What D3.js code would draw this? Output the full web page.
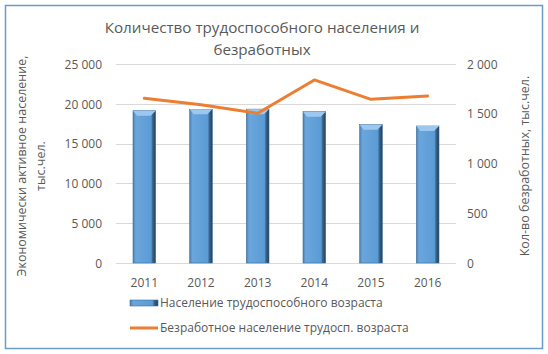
<!DOCTYPE html>
<html>
<head>
<meta charset="utf-8">
<script src="https://cdn.jsdelivr.net/npm/d3@7"></script>
<style>
  body { margin: 0; background: #fff; }
  svg text { font-family: "Open Sans", "Noto Sans", sans-serif; fill: #595959; }
</style>
</head>
<body>
<svg id="chart" width="548" height="354"></svg>
<script>
// data
const years = ["2011", "2012", "2013", "2014", "2015", "2016"]
const population = [19130, 19300, 19330, 19010, 17380, 17210]
const unemployed = [1655, 1590, 1505, 1840, 1645, 1678]
const leftTicks = [0, 5000, 10000, 15000, 20000, 25000]
const rightTicks = [0, 500, 1000, 1500, 2000]

const svg = d3.select("#chart")
const fmt = d => d3.format(",")(d).replace(/,/g, " ")

// frame
svg.append("rect")
    .attr("x", 5.5).attr("y", 5.5)
    .attr("width", 537).attr("height", 343)
    .attr("fill", "#fff")
    .attr("stroke", "#6a9bc9")
    .attr("stroke-width", 1.5)

let defs = svg.append("defs")
let grad = defs.append("linearGradient").attr("id", "barGrad")
    .attr("x1", 0).attr("x2", 1).attr("y1", 0).attr("y2", 0)
grad.append("stop").attr("offset", "0%").attr("stop-color", "#4a7fb0")
grad.append("stop").attr("offset", "12%").attr("stop-color", "#6aa6dc")
grad.append("stop").attr("offset", "80%").attr("stop-color", "#5b9bd5")
grad.append("stop").attr("offset", "86%").attr("stop-color", "#3d6990")
grad.append("stop").attr("offset", "100%").attr("stop-color", "#223c55")

const plotL = 116, plotR = 456, plotT = 64, plotB = 263

let x = d3.scaleBand().domain(years).range([plotL, plotR]).paddingInner(0.6).paddingOuter(0.3)
let yL = d3.scaleLinear().domain([0, 25000]).range([plotB, plotT])
let yR = d3.scaleLinear().domain([0, 2000]).range([plotB, plotT])

// title
svg.append("text").attr("x", 262).attr("y", 33)
    .attr("text-anchor", "middle").style("font-size", "15.2px")
    .text("Количество трудоспособного населения и")
svg.append("text").attr("x", 262).attr("y", 55)
    .attr("text-anchor", "middle").style("font-size", "15.2px")
    .text("безработных")

// gridlines
svg.append("g").selectAll("line")
    .data(leftTicks)
    .enter().append("line")
    .attr("x1", plotL).attr("x2", plotR)
    .attr("y1", d => Math.round(yL(d)) + 0.5)
    .attr("y2", d => Math.round(yL(d)) + 0.5)
    .attr("stroke", "#d9d9d9")

// left axis
let axL = svg.append("g").attr("transform", "translate(" + (plotL - 11) + ",0)")
    .call(d3.axisLeft(yL).tickValues(leftTicks).tickFormat(fmt).tickSize(0))
axL.select(".domain").remove()
axL.selectAll("text").style("font-size", "12px").attr("dy", "0.35em")

// right axis
let axR = svg.append("g").attr("transform", "translate(" + (plotR + 8) + ",0)")
    .call(d3.axisRight(yR).tickValues(rightTicks).tickFormat(fmt).tickSize(0))
axR.select(".domain").remove()
axR.selectAll("text").style("font-size", "12px").attr("dy", "0.35em")

// x axis
let axX = svg.append("g").attr("transform", "translate(0," + (plotB + 12) + ")")
    .call(d3.axisBottom(x).tickSize(0))
axX.select(".domain").remove()
axX.selectAll("text").style("font-size", "12px")

// axis titles
let lt = svg.append("text").attr("transform", "translate(26,166) rotate(-90)")
    .attr("text-anchor", "middle").style("font-size", "12.5px")
lt.append("tspan").attr("x", 0).attr("y", 0).text("Экономически активное население,")
lt.append("tspan").attr("x", 0).attr("y", 19).text("тыс.чел.")

svg.append("text").attr("transform", "translate(529,166) rotate(-90)")
    .attr("text-anchor", "middle").style("font-size", "12.5px")
    .text("Кол-во безработных, тыс.чел.")

// bars
let bars = svg.append("g").selectAll("g")
    .data(years)
    .enter().append("g")

bars.append("rect")
    .attr("x", d => x(d))
    .attr("y", (d, i) => yL(population[i]))
    .attr("width", x.bandwidth())
    .attr("height", (d, i) => plotB - yL(population[i]))
    .attr("fill", "url(#barGrad)")
    .attr("stroke", "#41719c")
    .attr("stroke-width", 0.6)

// top bevel
bars.append("path")
    .attr("d", (d, i) => {
        let x0 = x(d), x1 = x(d) + x.bandwidth(), y0 = yL(population[i])
        return "M" + x0 + "," + y0 + "L" + x1 + "," + y0 +
            "L" + (x1 - 5) + "," + (y0 + 5) + "L" + (x0 + 4) + "," + (y0 + 5) + "Z"
    })
    .attr("fill", "#9cc8ef")

// line
let line = d3.line()
    .x((d, i) => x(years[i]) + x.bandwidth() / 2)
    .y(d => yR(d))

svg.append("path")
    .datum(unemployed)
    .attr("d", line)
    .attr("fill", "none")
    .attr("stroke", "#ed7d31")
    .attr("stroke-width", 3)
    .attr("stroke-linejoin", "round")
    .attr("stroke-linecap", "round")

// legend
svg.append("rect").attr("x", 130).attr("y", 300).attr("width", 28).attr("height", 6)
    .attr("fill", "url(#barGrad)").attr("stroke", "#41719c").attr("stroke-width", 0.6)
svg.append("text").attr("x", 160).attr("y", 303).attr("dy", "0.35em")
    .style("font-size", "12px").text("Население трудоспособного возраста")

svg.append("line").attr("x1", 130).attr("x2", 158).attr("y1", 328).attr("y2", 328)
    .attr("stroke", "#ed7d31").attr("stroke-width", 3)
svg.append("text").attr("x", 160).attr("y", 328).attr("dy", "0.35em")
    .style("font-size", "12px").text("Безработное население трудосп. возраста")
</script>
</body>
</html>
